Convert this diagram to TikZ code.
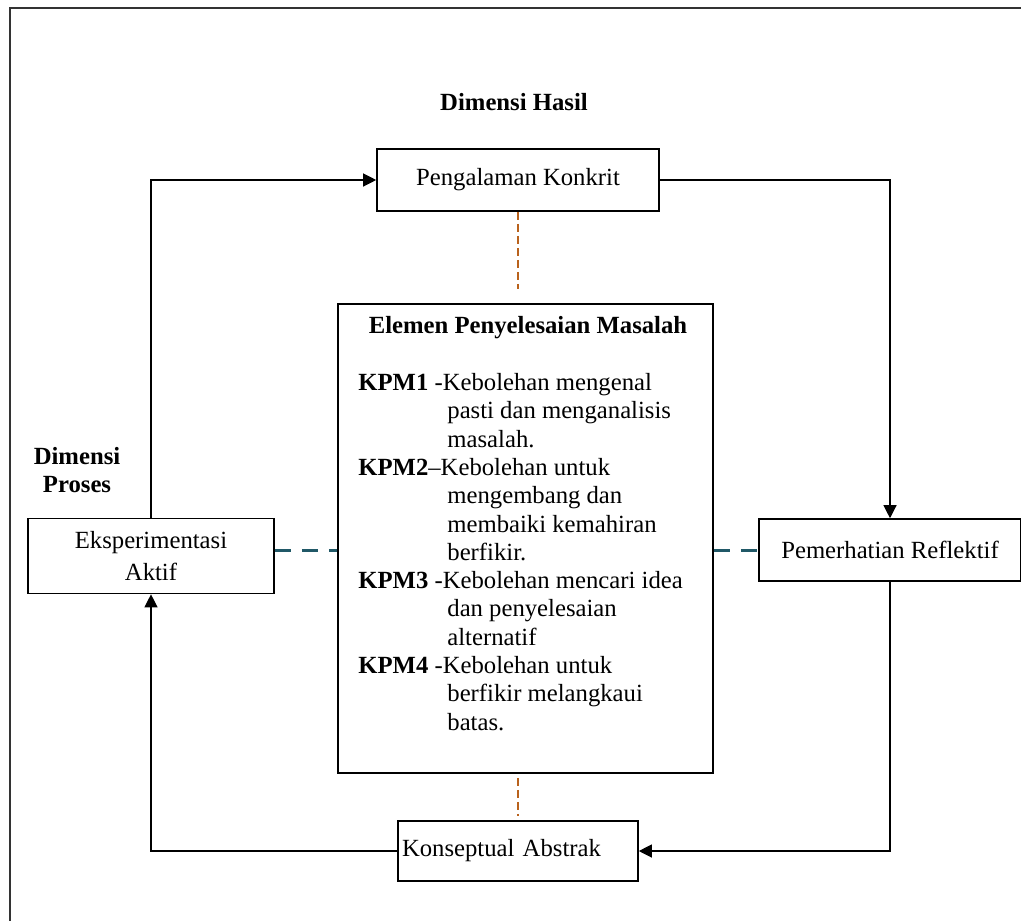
\documentclass[tikz,border=0pt]{standalone}
\usepackage{fontspec}
\setmainfont{Liberation Serif}
\usetikzlibrary{arrows.meta}

\definecolor{hijaubiru}{RGB}{32,88,103}
\definecolor{coklat}{RGB}{185,98,28}

\newcommand{\inden}{\hspace*{44.5pt}}

\begin{document}
\begin{tikzpicture}[x=0.5pt, y=-0.5pt,
  font=\fontsize{12.35}{14.15}\selectfont,
  kotak/.style={draw, line width=0.8pt, inner sep=2pt},
  judul/.style={font=\fontsize{12.35}{14.15}\selectfont\bfseries},
  panah/.style={line width=0.6pt, -{Triangle[length=6.5pt,width=6.5pt]}},
  putusA/.style={coklat, line width=0.9pt, dash pattern=on 4pt off 2pt},
  putusB/.style={hijaubiru, line width=1.5pt, dash pattern=on 8pt off 5.5pt}]

\useasboundingbox (0,0) rectangle (1021,920);
% bingkai luar
\draw[black!80, line width=1pt] (10,8) rectangle (1050,950);

\node[judul, anchor=base] (hasil) at (514,111) {Dimensi Hasil};
\node[judul, align=center] (proses) at (77,470) {Dimensi\\Proses};

% empat peringkat kitaran
\node[kotak, minimum width=141pt, minimum height=31pt] (konkrit) at (518,180) {Pengalaman Konkrit};
\node[kotak, minimum width=131pt, minimum height=31pt] (reflektif) at (890,550) {Pemerhatian Reflektif};
\node[kotak, text width=116pt, minimum height=30pt, align=left] (abstrak) at (518,851) {Konseptual Abstrak};
\node[kotak, minimum width=123pt, minimum height=37.5pt, align=center,
  font=\fontsize{12.35}{16}\selectfont] (eksp) at (151,556) {Eksperimentasi\\Aktif};

% kotak tengah
\node[kotak, minimum width=187.5pt, minimum height=234.5pt] (elemen) at (525.5,538.5) {};
\node[judul, anchor=base] (tajuk) at (528,333) {Elemen Penyelesaian Masalah};
\node[anchor=north west, align=left, inner sep=0pt] (senarai) at (358,373) {%
\textbf{KPM1} -Kebolehan mengenal\\
\inden pasti dan menganalisis\\
\inden masalah.\\
\textbf{KPM2}--Kebolehan untuk\\
\inden mengembang dan\\
\inden membaiki kemahiran\\
\inden berfikir.\\
\textbf{KPM3} -Kebolehan mencari idea\\
\inden dan penyelesaian\\
\inden alternatif\\
\textbf{KPM4} -Kebolehan untuk\\
\inden berfikir melangkaui\\
\inden batas.};

% anak panah kitaran
\draw[panah] (eksp.north) |- (konkrit.west);
\draw[panah] (konkrit.east) -| (reflektif.north);
\draw[panah] (reflektif.south) |- (abstrak.east);
\draw[panah] (abstrak.west) -| (eksp.south);

% garis putus-putus
\draw[putusA, shorten >=7pt] (konkrit.south) -- (konkrit.south |- elemen.north);
\draw[putusA, shorten <=2pt, shorten >=2pt] (abstrak.north |- elemen.south) -- (abstrak.north);
\draw[putusB] (reflektif.west -| eksp.east) -- (reflektif.west -| elemen.west);
\draw[putusB] (reflektif.west -| elemen.east) -- (reflektif.west);

\end{tikzpicture}
\end{document}
